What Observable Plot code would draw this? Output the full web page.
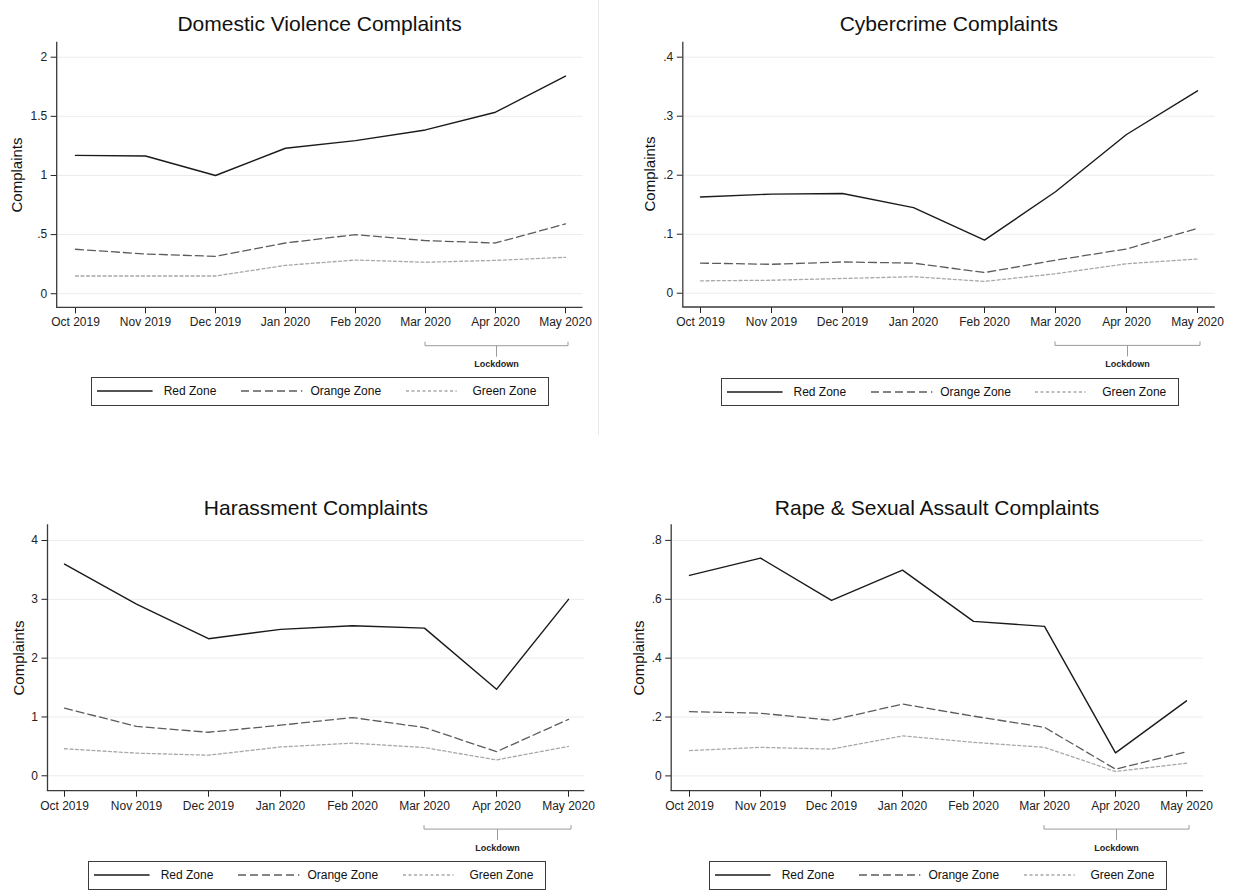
<!DOCTYPE html>
<html>
<head>
<meta charset="utf-8">
<script src="https://cdn.jsdelivr.net/npm/d3@7"></script>
<script src="https://cdn.jsdelivr.net/npm/@observablehq/plot@0.6"></script>
<style>
  html, body { margin: 0; padding: 0; background: #fff; }
  #root { position: relative; width: 1237px; height: 890px; overflow: hidden; background: #fff;
          font-family: "Liberation Sans", Arial, Helvetica, sans-serif; color: #111; }
  .abs { position: absolute; }
  .ctext { position: absolute; transform: translate(-50%, -50%); white-space: nowrap; line-height: 1; }
  .legend { position: absolute; box-sizing: border-box; border: 1.3px solid #3c3c3c; background: #fff; }
  .legend .lab { position: absolute; top: 50%; transform: translateY(-50%); font-size: 12px; line-height: 1; white-space: nowrap; color: #111; }
  .legend svg { position: absolute; top: 0; overflow: visible; }
</style>
</head>
<body>
<div id="root"></div>
<script>
// ---------------- data ----------------
const months = ["Oct 2019", "Nov 2019", "Dec 2019", "Jan 2020", "Feb 2020", "Mar 2020", "Apr 2020", "May 2020"];
const zones = ["Red Zone", "Orange Zone", "Green Zone"];
const titles = ["Domestic Violence Complaints", "Cybercrime Complaints", "Harassment Complaints", "Rape & Sexual Assault Complaints"];
const yLabel = "Complaints";
const lockdownLabel = "Lockdown";
const lockdownStart = "Mar 2020";
const lockdownEnd = "May 2020";

const dvRed    = [1.17, 1.165, 1.00, 1.23, 1.295, 1.385, 1.535, 1.84];
const dvOrange = [0.376, 0.336, 0.316, 0.429, 0.50, 0.449, 0.429, 0.59];
const dvGreen  = [0.15, 0.15, 0.15, 0.24, 0.285, 0.266, 0.282, 0.308];
const dvTicks  = [0, 0.5, 1, 1.5, 2];

const cyRed    = [0.163, 0.168, 0.169, 0.145, 0.090, 0.172, 0.269, 0.343];
const cyOrange = [0.051, 0.049, 0.053, 0.051, 0.035, 0.056, 0.075, 0.110];
const cyGreen  = [0.021, 0.022, 0.025, 0.028, 0.020, 0.033, 0.050, 0.058];
const cyTicks  = [0, 0.1, 0.2, 0.3, 0.4];

const haRed    = [3.60, 2.92, 2.33, 2.49, 2.55, 2.51, 1.47, 3.00];
const haOrange = [1.15, 0.84, 0.74, 0.86, 0.99, 0.82, 0.41, 0.96];
const haGreen  = [0.46, 0.385, 0.35, 0.49, 0.555, 0.48, 0.27, 0.50];
const haTicks  = [0, 1, 2, 3, 4];

const rsRed    = [0.681, 0.740, 0.596, 0.699, 0.525, 0.508, 0.078, 0.255];
const rsOrange = [0.218, 0.213, 0.189, 0.244, 0.203, 0.165, 0.023, 0.082];
const rsGreen  = [0.086, 0.097, 0.091, 0.136, 0.114, 0.097, 0.015, 0.043];
const rsTicks  = [0, 0.2, 0.4, 0.6, 0.8];

// ---------------- styles ----------------
const zoneStyle = [
  {stroke: "#1a1a1a", strokeWidth: 1.4, dash: null},
  {stroke: "#5c5c5c", strokeWidth: 1.3, dash: "8,4"},
  {stroke: "#a8a8a8", strokeWidth: 1.3, dash: "3,2.5"}
];

// ---------------- layout ----------------
const panels = [
  {title: titles[0], series: [dvRed, dvOrange, dvGreen], ticks: dvTicks, domain: [-0.119, 2.127],
   left: 0, top: 0, width: 598, height: 372, ml: 56.7, mr: 15.5, mt: 41.7, mb: 64.7, pad: 0.221,
   legendLeft: 91, legendTop: 377, titleY: 23.3, ylabX: 16},
  {title: titles[1], series: [cyRed, cyOrange, cyGreen], ticks: cyTicks, domain: [-0.0242, 0.4254],
   left: 610, top: 0, width: 627, height: 372, ml: 72.8, mr: 22.2, mt: 41.7, mb: 65, pad: 0.212,
   legendLeft: 720.8, legendTop: 377.5, titleY: 23.3, ylabX: 649},
  {title: titles[2], series: [haRed, haOrange, haGreen], ticks: haTicks, domain: [-0.262, 4.267],
   left: 0, top: 480, width: 598, height: 375, ml: 47.5, mr: 13.7, mt: 44.3, mb: 64.3, pad: 0.216,
   legendLeft: 88, legendTop: 861, titleY: 506.7, ylabX: 17.5},
  {title: titles[3], series: [rsRed, rsOrange, rsGreen], ticks: rsTicks, domain: [-0.052, 0.853],
   left: 610, top: 480, width: 627, height: 375, ml: 61.2, mr: 34, mt: 44.3, mb: 64.3, pad: 0.212,
   legendLeft: 709, legendTop: 861, titleY: 507, ylabX: 638}
];

const root = document.getElementById("root");
const fmt = d => d === 0 ? "0" : String(d).replace(/^0\./, ".");

function decorations(index, scales, values, dims) {
  const x = scales.x;
  const g = d3.create("svg:g");
  const x0 = dims.marginLeft, x1 = dims.width - dims.marginRight;
  const yt = dims.marginTop, yb = dims.height - dims.marginBottom;
  g.append("line").attr("x1", x0).attr("x2", x0).attr("y1", yt).attr("y2", yb)
    .attr("stroke", "#3a3a3a").attr("stroke-width", 1.3);
  g.append("line").attr("x1", x0 - 0.65).attr("x2", x1).attr("y1", yb).attr("y2", yb)
    .attr("stroke", "#3a3a3a").attr("stroke-width", 1.3);
  const bl = x(lockdownStart), br = x(lockdownEnd) + 3, bm = (bl + br) / 2;
  const yh = yb + 38.4;
  g.append("path")
    .attr("d", `M${bl},${yh - 4}V${yh}H${br}V${yh - 4}M${bm},${yh}V${yh + 11}`)
    .attr("fill", "none").attr("stroke", "#9a9a9a").attr("stroke-width", 1);
  g.append("text").attr("x", bm).attr("y", yb + 57).attr("text-anchor", "middle")
    .attr("dy", "0.35em").attr("font-size", 9).attr("font-weight", "bold").attr("fill", "#222")
    .text(lockdownLabel);
  return g.node();
}

panels.forEach(p => {
  const marks = [
    Plot.ruleY(p.ticks, {stroke: "#ececec", strokeWidth: 1})
  ];
  p.series.forEach((vals, i) => {
    const s = zoneStyle[i];
    const rows = months.map((m, j) => ({month: m, value: vals[j]}));
    const opts = {x: "month", y: "value", stroke: s.stroke, strokeWidth: s.strokeWidth};
    if (s.dash) opts.strokeDasharray = s.dash;
    marks.push(Plot.line(rows, opts));
  });
  marks.push(decorations);

  const plot = Plot.plot({
    width: p.width, height: p.height,
    marginLeft: p.ml, marginRight: p.mr, marginTop: p.mt, marginBottom: p.mb,
    style: {fontSize: "12px", fontFamily: '"Liberation Sans", Arial, sans-serif', color: "#222",
            background: "transparent", overflow: "visible", maxWidth: "none"},
    x: {type: "point", domain: months, padding: p.pad, label: null, tickSize: 6, tickPadding: 4},
    y: {domain: p.domain, ticks: p.ticks, tickFormat: fmt, label: null, tickSize: 6, tickPadding: 4},
    marks
  });
  plot.style.position = "absolute";
  plot.style.left = p.left + "px";
  plot.style.top = p.top + "px";
  root.appendChild(plot);

  const cx = p.left + (p.ml + (p.width - p.mr)) / 2;
  const cy = p.top + (p.mt + (p.height - p.mb)) / 2;

  const t = document.createElement("div");
  t.className = "ctext";
  t.style.left = cx + "px"; t.style.top = p.titleY + "px";
  t.style.fontSize = "21px";
  t.textContent = p.title;
  root.appendChild(t);

  const yl = document.createElement("div");
  yl.className = "ctext";
  yl.style.left = p.ylabX + "px"; yl.style.top = cy + "px";
  yl.style.fontSize = "15px";
  yl.style.transform = "translate(-50%, -50%) rotate(-90deg)";
  yl.textContent = yLabel;
  root.appendChild(yl);

  // legend
  const lg = document.createElement("div");
  lg.className = "legend";
  lg.style.left = p.legendLeft + "px"; lg.style.top = p.legendTop + "px";
  lg.style.width = "458px"; lg.style.height = "28.5px";
  const keyPos = [{k0: 6.7, k1: 62.3, t: 73}, {k0: 150.7, k1: 212, t: 219.7}, {k0: 315, k1: 365.7, t: 381.7}];
  zones.forEach((z, i) => {
    const s = zoneStyle[i], kp = keyPos[i];
    const svg = d3.create("svg").attr("width", kp.k1 - kp.k0).attr("height", 26)
      .style("left", (kp.k0 - 1.3) + "px");
    svg.append("line").attr("x1", 0).attr("x2", kp.k1 - kp.k0).attr("y1", 13).attr("y2", 13)
      .attr("stroke", s.stroke).attr("stroke-width", s.strokeWidth)
      .attr("stroke-dasharray", s.dash);
    lg.appendChild(svg.node());
    const lab = document.createElement("div");
    lab.className = "lab";
    lab.style.left = (kp.t - 1.3) + "px";
    lab.textContent = z;
    lg.appendChild(lab);
  });
  root.appendChild(lg);
});

// faint separator between the two top panels
const sep = document.createElement("div");
sep.className = "abs";
Object.assign(sep.style, {left: "598px", top: "0px", width: "1px", height: "435px", background: "#e8e8e8"});
root.appendChild(sep);
</script>
</body>
</html>
